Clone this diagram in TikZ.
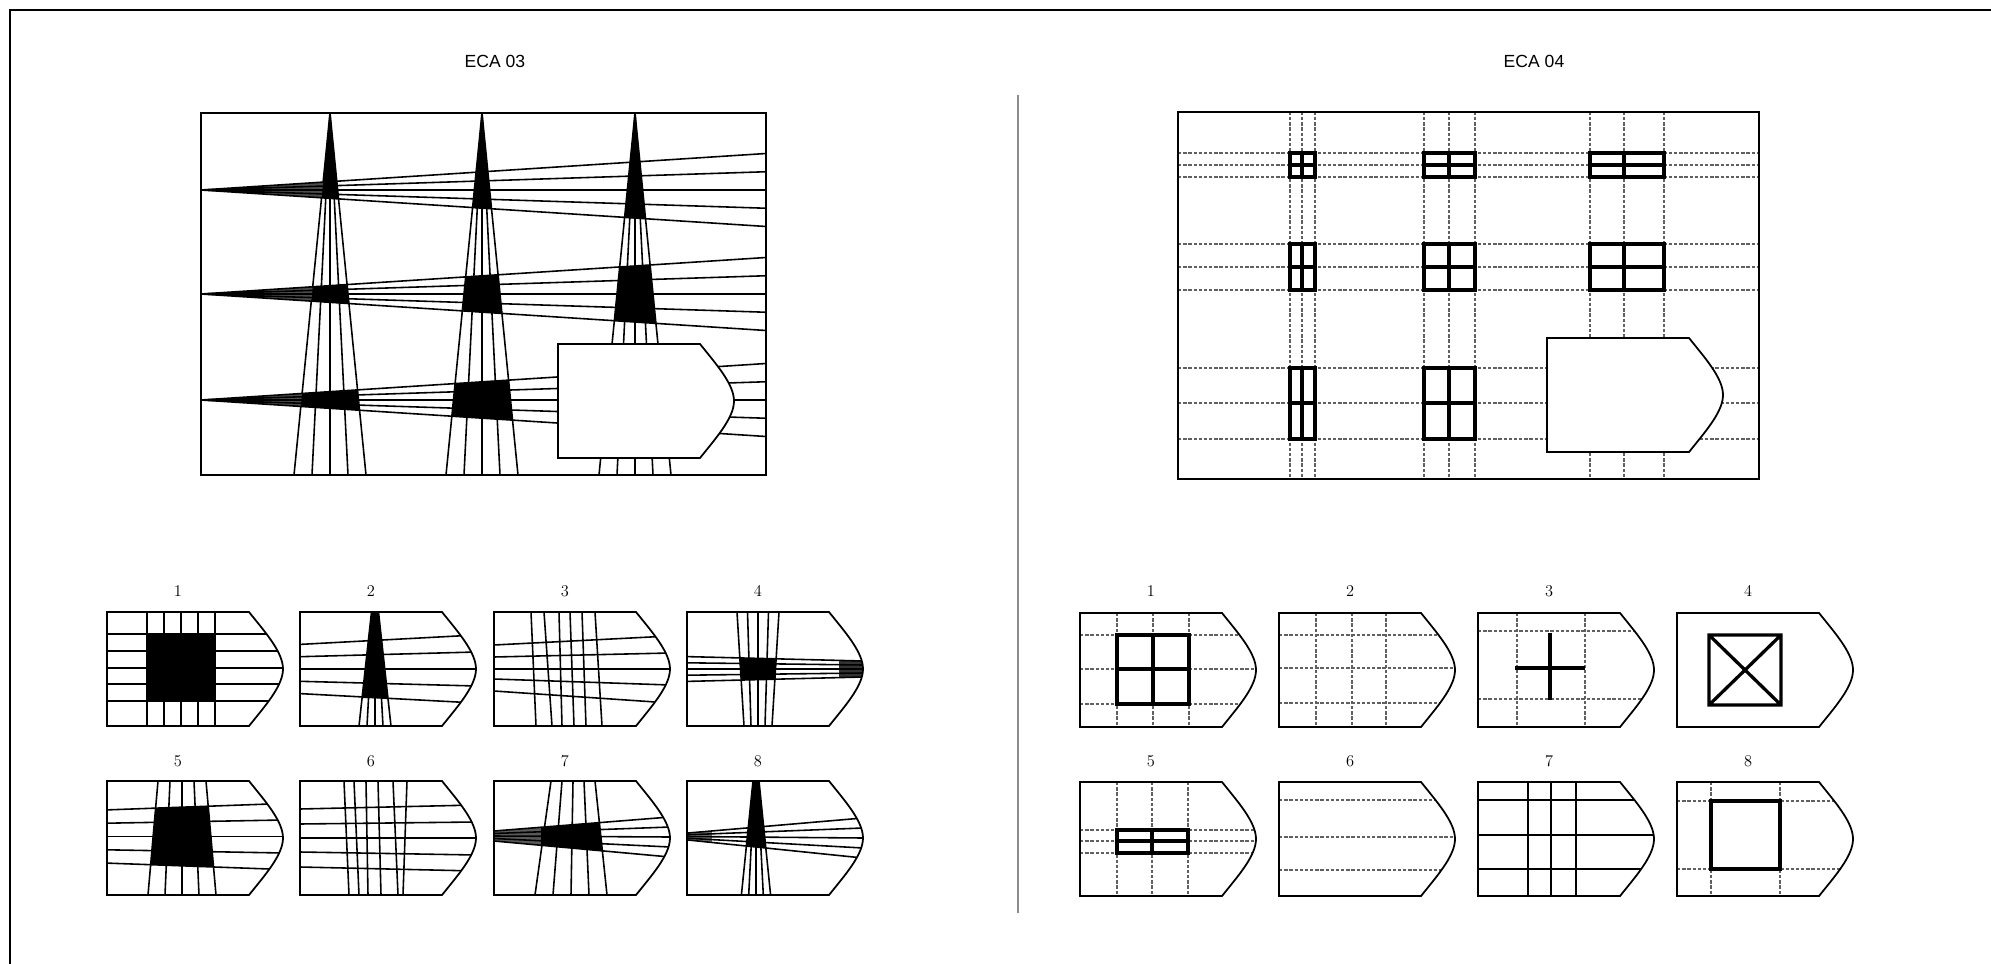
\documentclass[tikz,border=0pt]{standalone}
\usepackage{fontspec}
\newfontfamily\titlefont{Liberation Sans}
\usetikzlibrary{calc}

\definecolor{dashgrey}{HTML}{606060}
\definecolor{rulegrey}{HTML}{8C8C8C}
\tikzset{
  pageline/.style={line width=1.6pt, draw=black},
  frameline/.style={line width=1.5pt, draw=black},
  beam/.style={line width=1.35pt, draw=black},
  bowbox/.style={line width=1.5pt, draw=black},
  gridline/.style={line width=1.1pt, draw=dashgrey, dash pattern=on 1mm off 0.55mm},
  pane/.style={line width=2.8pt, draw=black},
  bar/.style={line width=1.6pt, draw=black},
  title/.style={font=\titlefont\fontsize{15}{18}\selectfont},
  optlabel/.style={font=\fontsize{14}{16}\selectfont}
}
% answer piece, 176 x 114, top-left corner at the origin
\newcommand{\bowpath}{(0,0) -- (142,0) .. controls (158,20) and (176,40) .. (176,57)
  .. controls (176,74) and (158,94) .. (142,114) -- (0,114) -- cycle}

\begin{document}
\begin{tikzpicture}[x=0.3mm,y=-0.3mm]
  \useasboundingbox (0,0) rectangle (1991,964);
  \fill[white] (0,0) rectangle (1991,964);
  \draw[pageline] (10,964) -- (10,10) -- (1991,10);
  \draw[line width=1.1pt, draw=rulegrey] (1018,95) -- (1018,913);

  \node[title] (eca3) at (495,61) {ECA 03};
  \node[title] (eca4) at (1534,61) {ECA 04};

  % ---------- ECA 03 matrix
  \def\mL{201} \def\mR{766} \def\mT{113} \def\mB{475}
  \begin{scope}
    \clip (\mL,\mT) rectangle (\mR,\mB);
    \foreach \cx in {330,482,635} {
      \begin{scope}
        \clip (\cx,\mT) -- (\cx-36,\mB) -- (\cx+36,\mB) -- cycle;
        \fill (\mL,\mT) -- (\mR,\mT) -- (\mR,227) -- (\mL,190) -- cycle;
        \foreach \ry in {190,294,400}
          \fill (\mL,\ry) -- (\mR,\ry-36.5) -- (\mR,\ry+36.5) -- cycle;
      \end{scope}
      \foreach \k in {-2,...,2}
        \draw[beam] (\cx,\mT) -- (\cx+\k*18,\mB);
    }
    \foreach \ry in {190,294,400} {
      \begin{scope}
        \clip (\mL,\ry) -- (\mR,\ry-36.5) -- (\mR,\ry+36.5) -- cycle;
        \fill (\mL,\mT) -- (262,\mT) -- (262,\mB) -- (\mL,\mB) -- cycle;
        \fill[black!70] (262,\mT) -- (330,\mT) -- (294,\mB) -- (262,\mB) -- cycle;
      \end{scope}
      \foreach \k in {-2,...,2}
        \draw[beam] (\mL,\ry) -- (\mR,\ry+\k*18.25);
    }
  \end{scope}
  \draw[bowbox, fill=white, shift={(558,344)}] \bowpath;
  \draw[frameline] (\mL,\mT) rectangle (\mR,\mB);

  % ---------- ECA 04 matrix
  \def\nL{1178} \def\nR{1759} \def\nT{112} \def\nB{479}
  \foreach \x in {1290,1302,1315,1424,1449,1475,1590,1624,1664}
    \draw[gridline] (\x,\nT) -- (\x,\nB);
  \foreach \y in {153,165,177,244,267,290,368,403,439}
    \draw[gridline] (\nL,\y) -- (\nR,\y);
  \foreach \xa/\xm/\xb in {1290/1302/1315,1424/1449/1475,1590/1624/1664}
    \foreach \ya/\ym/\yb in {153/165/177,244/267/290,368/403/439} {
      \draw[pane] (\xa,\ya) rectangle (\xb,\yb);
      \draw[pane] (\xm,\ya) -- (\xm,\yb) (\xa,\ym) -- (\xb,\ym);
    }
  \draw[bowbox, fill=white, shift={(1547,338)}] \bowpath;
  \draw[frameline] (\nL,\nT) rectangle (\nR,\nB);

  % ---------- answer labels
  \foreach \n/\x/\y in {1/107/591,2/300/591,3/494/591,4/687/591,
                        5/107/761,6/300/761,7/494/761,8/687/761,
                        1/1080/591,2/1279/591,3/1478/591,4/1677/591,
                        5/1080/761,6/1279/761,7/1478/761,8/1677/761}
    \node[optlabel] (lab-\x-\y) at (\x+71,\y) {\n};

  % ---------- ECA 03 answers
  \begin{scope}[shift={(107,612)}]
    \begin{scope}
      \clip \bowpath;
      \fill (41,23) rectangle (108,88);
      \foreach \x in {40,57,74,91,108} \draw[beam] (\x,0) -- (\x,114);
      \foreach \y in {22,39,56,72,89} \draw[beam] (0,\y) -- (176,\y);
    \end{scope}
    \draw[bowbox] \bowpath;
  \end{scope}

  \begin{scope}[shift={(300,612)}]
    \begin{scope}
      \clip \bowpath;
      \fill (71.5,0) -- (78.5,0) -- (88,86) -- (62,86) -- cycle;
      \foreach \k in {-2,...,2} {
        \draw[beam] (75+\k*1.75,0) -- (75+\k*8,114);
        \draw[beam] (0,57+\k*12.3) -- (176,57+\k*17);
      }
    \end{scope}
    \draw[bowbox] \bowpath;
  \end{scope}

  \begin{scope}[shift={(494,612)}]
    \begin{scope}
      \clip \bowpath;
      \foreach \a/\b in {37/42,50/58,65/68,76/80,88/92,101/108}
        \draw[beam] (\a,0) -- (\b,114);
      \foreach \a/\b in {33/24,45/41,57/57,67/73,79/91}
        \draw[beam] (0,\a) -- (176,\b);
    \end{scope}
    \draw[bowbox] \bowpath;
  \end{scope}

  \begin{scope}[shift={(687,612)}]
    \begin{scope}
      \clip \bowpath;
      \begin{scope}
        \clip (50,0) -- (92,0) -- (85,114) -- (57,114) -- cycle;
        \fill (0,44.6) -- (176,49) -- (176,65) -- (0,69.4) -- cycle;
      \end{scope}
      \begin{scope}
        \clip (0,44.6) -- (176,49) -- (176,65) -- (0,69.4) -- cycle;
        \fill[black!80] (152,0) rectangle (176,114);
      \end{scope}
      \foreach \k in {-2,...,2} {
        \draw[beam] (71+\k*10.5,0) -- (71+\k*7,114);
        \draw[beam] (0,57+\k*6.2) -- (176,57+\k*4);
      }
    \end{scope}
    \draw[bowbox] \bowpath;
  \end{scope}

  \begin{scope}[shift={(107,781)}]
    \begin{scope}
      \clip \bowpath;
      \begin{scope}
        \clip (51,0) -- (99,0) -- (109,114) -- (41,114) -- cycle;
        \fill (0,28.9) -- (176,22.5) -- (176,88.5) -- (0,82.1) -- cycle;
      \end{scope}
      \foreach \k in {-2,...,2} {
        \draw[beam] (75+\k*12,0) -- (75+\k*17,114);
        \draw[beam] (0,55.5+\k*13.3) -- (176,55.5+\k*16.5);
      }
    \end{scope}
    \draw[bowbox] \bowpath;
  \end{scope}

  \begin{scope}[shift={(300,781)}]
    \begin{scope}
      \clip \bowpath;
      \foreach \a/\b in {44/49,54/59,66/68,78/81,93/98,107/103}
        \draw[beam] (\a,0) -- (\b,114);
      \foreach \a/\b in {28/24,43/41,57/57,71/74,86/90}
        \draw[beam] (0,\a) -- (176,\b);
    \end{scope}
    \draw[bowbox] \bowpath;
  \end{scope}

  \begin{scope}[shift={(494,781)}]
    \begin{scope}
      \clip \bowpath;
      \begin{scope}
        \clip (0,50) -- (176,36) -- (176,76) -- (0,60) -- cycle;
        \fill[black!65] (0,0) rectangle (47,114);
        \fill (47,0) -- (101,0) -- (113,114) -- (47,114) -- cycle;
      \end{scope}
      \foreach \k in {-2,...,2} {
        \draw[beam] (79+\k*11,0) -- (77+\k*18,114);
        \draw[beam] (0,55+\k*2.5) -- (176,56+\k*10);
      }
    \end{scope}
    \draw[bowbox] \bowpath;
  \end{scope}

  \begin{scope}[shift={(687,781)}]
    \begin{scope}
      \clip \bowpath;
      \begin{scope}
        \clip (66,0) -- (72,0) -- (83.6,114) -- (54.4,114) -- cycle;
        \fill (0,0) -- (176,0) -- (176,77) -- (0,58.9) -- cycle;
      \end{scope}
      \begin{scope}
        \clip (0,52.1) -- (176,37) -- (176,77) -- (0,58.9) -- cycle;
        \fill[black!55] (0,0) rectangle (25,114);
      \end{scope}
      \foreach \k in {-2,...,2} {
        \draw[beam] (69+\k*1.5,0) -- (69+\k*7.3,114);
        \draw[beam] (0,55.5+\k*1.7) -- (176,57+\k*10);
      }
    \end{scope}
    \draw[bowbox] \bowpath;
  \end{scope}

  % ---------- ECA 04 answers
  \begin{scope}[shift={(1080,613)}]
    \begin{scope}
      \clip \bowpath;
      \foreach \x in {37,73,109} \draw[gridline] (\x,0) -- (\x,114);
      \foreach \y in {22,56,91} \draw[gridline] (0,\y) -- (176,\y);
    \end{scope}
    \draw[pane] (37,22) rectangle (109,91) (73,22) -- (73,91) (37,56) -- (109,56);
    \draw[bowbox] \bowpath;
  \end{scope}

  \begin{scope}[shift={(1279,613)}]
    \begin{scope}
      \clip \bowpath;
      \foreach \x in {37,73,107} \draw[gridline] (\x,0) -- (\x,114);
      \foreach \y in {22,55,90} \draw[gridline] (0,\y) -- (176,\y);
    \end{scope}
    \draw[bowbox] \bowpath;
  \end{scope}

  \begin{scope}[shift={(1478,613)}]
    \begin{scope}
      \clip \bowpath;
      \foreach \x in {39,107} \draw[gridline] (\x,0) -- (\x,114);
      \foreach \y in {18,86} \draw[gridline] (0,\y) -- (176,\y);
    \end{scope}
    \draw[pane] (37,55) -- (107,55) (72,20) -- (72,87);
    \draw[bowbox] \bowpath;
  \end{scope}

  \begin{scope}[shift={(1677,613)}]
    \draw[pane] (32,22) rectangle (104,92) (32,22) -- (104,92) (104,22) -- (32,92);
    \draw[bowbox] \bowpath;
  \end{scope}

  \begin{scope}[shift={(1080,782)}]
    \begin{scope}
      \clip \bowpath;
      \foreach \x in {37,72,108} \draw[gridline] (\x,0) -- (\x,114);
      \foreach \y in {48,59,71} \draw[gridline] (0,\y) -- (176,\y);
    \end{scope}
    \draw[pane] (37,48) rectangle (108,71) (72,48) -- (72,71) (37,59) -- (108,59);
    \draw[bowbox] \bowpath;
  \end{scope}

  \begin{scope}[shift={(1279,782)}]
    \begin{scope}
      \clip \bowpath;
      \foreach \y in {18,55,88} \draw[gridline] (0,\y) -- (176,\y);
    \end{scope}
    \draw[bowbox] \bowpath;
  \end{scope}

  \begin{scope}[shift={(1478,782)}]
    \begin{scope}
      \clip \bowpath;
      \foreach \x in {50,73,98} \draw[bar] (\x,0) -- (\x,114);
      \foreach \y in {18,53,87} \draw[bar] (0,\y) -- (176,\y);
    \end{scope}
    \draw[bowbox] \bowpath;
  \end{scope}

  \begin{scope}[shift={(1677,782)}]
    \begin{scope}
      \clip \bowpath;
      \foreach \x in {34,103} \draw[gridline] (\x,0) -- (\x,114);
      \foreach \y in {19,87} \draw[gridline] (0,\y) -- (176,\y);
    \end{scope}
    \draw[pane] (34,19) rectangle (103,87);
    \draw[bowbox] \bowpath;
  \end{scope}
\end{tikzpicture}
\end{document}
